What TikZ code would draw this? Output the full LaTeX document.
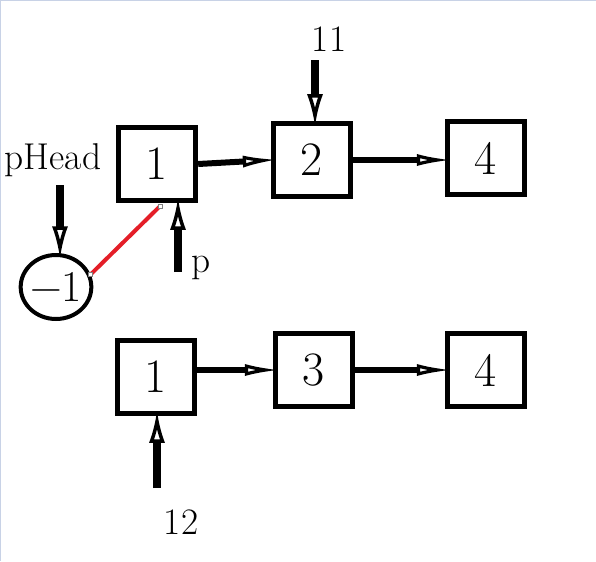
\documentclass[tikz,border=0pt]{standalone}
\usetikzlibrary{arrows.meta}
\usetikzlibrary{shapes.geometric}
\usetikzlibrary{calc}

\begin{document}
\begin{tikzpicture}
	[x=0.75pt,y=-0.75pt,line cap=butt,
	%Styles
	box/.style={draw,line width=3.75pt,minimum width=58pt,minimum height=55pt,inner sep=0pt,font=\fontsize{36}{36}\selectfont},
	head/.style={draw,ellipse,line width=3pt,minimum width=53pt,minimum height=48pt,inner sep=-8pt,font=\fontsize{33}{33}\selectfont},
	label text/.style={font=\fontsize{28}{28}\selectfont},
	pointer/.style={line width=6.5pt,shorten >=-4pt,-{Latex[open,length=24pt,width=12pt,line width=2.6pt]}},
	link/.style={line width=4.5pt,shorten >=-5pt,-{Latex[open,length=26pt,width=9pt,line width=2.4pt]}},
	handle/.style={draw=gray,fill=white,line width=0.5pt,minimum size=3pt,inner sep=0pt}
	]
	
	%Colors
	\definecolor{framecolor}{RGB}{200,210,230}	%window edge
	\definecolor{cutcolor}{RGB}{228,30,40}	%red link
	
	\useasboundingbox (0,0) rectangle (596,561);
	\draw[framecolor,line width=1.2pt] (0,561) -- (0,0) -- (596,0);
	
	%The graphic
	\node[box] (a1) at (157,164) {1};
	\node[box] (a2) at (312,160) {2};
	\node[box] (a4) at (486,158) {4};
	\node[head] (h) at (56,287) {−1};
	
	\node[box] (b1) at (156,377) {1};
	\node[box] (b3) at (314,370) {3};
	\node[box] (b4) at (486,370) {4};
	
	\node[label text] (phead) at (53,160) {pHead};
	\node[label text] (n11) at (329,39) {11};
	\node[label text] (pp) at (201,268) {p};
	\node[label text] (n12) at (181,522) {12};
	
	\coordinate (s11) at (315,60);
	\coordinate (shead) at (60,185);
	\coordinate (sp) at (178,272);
	\coordinate (s12) at (157,488);
	
	\draw[link] (a1.east) -- (a2.west);
	\draw[link] (a2.east) -- (a4.west |- a2.east);
	\draw[link] (b1.east |- b3.west) -- (b3.west);
	\draw[link] (b3.east) -- (b4.west);
	
	\draw[pointer] (s11) -- (s11 |- a2.north);
	\draw[pointer] (shead) -- (shead |- h.north);
	\draw[pointer] (sp) -- (sp |- a1.south);
	\draw[pointer] (s12) -- (s12 |- b1.south);
	
	\draw[cutcolor,line width=3pt] ($(a1.south)+(3,3)$) coordinate (r1) -- (h.20) coordinate (r2);
	\node[handle] (k1) at (r1) {};
	\node[handle] (k2) at (r2) {};
\end{tikzpicture}
\end{document}
